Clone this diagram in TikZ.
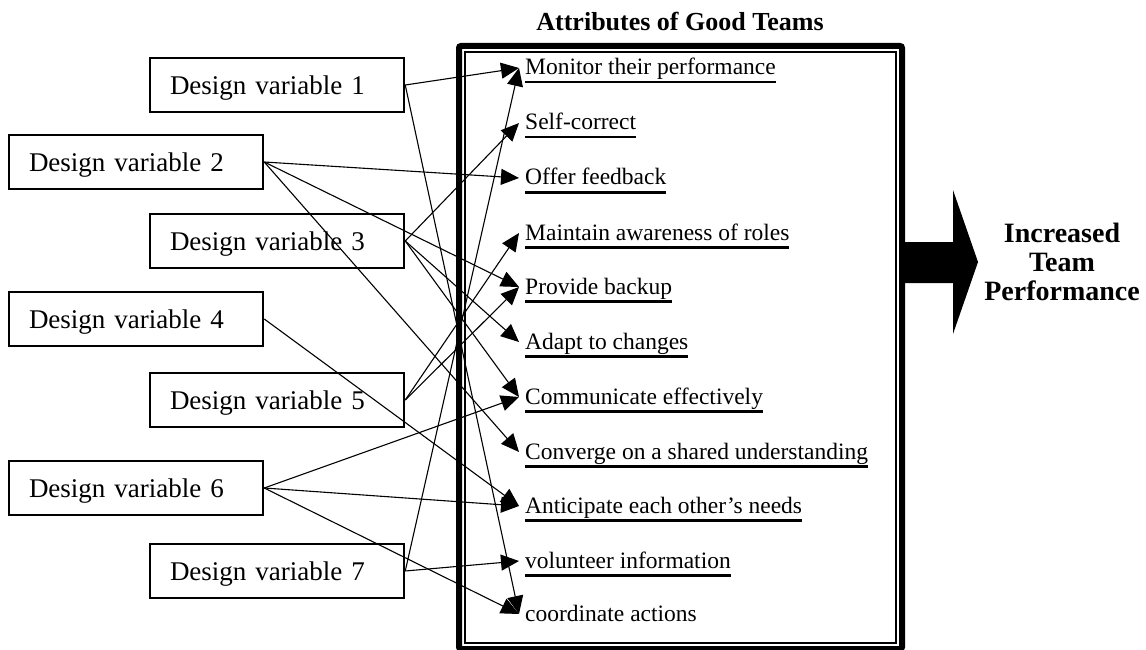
\documentclass[tikz,border=0pt]{standalone}
\usepackage{fontspec}
\setmainfont{Liberation Serif}
\usetikzlibrary{arrows.meta}
\newcommand{\attrul}[1]{\setbox0=\hbox{#1}\rlap{\rule[-8.5pt]{\wd0}{2.4pt}}\box0}
\tikzset{
  dvbox/.style={draw, line width=2.5pt, minimum height=54pt, text width=214pt, inner xsep=20pt, align=left,
    text height=19pt, text depth=0pt, font=\fontsize{27}{30}\selectfont},
  attr/.style={anchor=west, inner xsep=6pt, inner ysep=0pt, text height=17pt, text depth=3pt,
    font=\fontsize{23.5}{26}\selectfont},
  link/.style={line width=1.1pt, -{Triangle[length=18pt,width=16pt]}}
}
\begin{document}
\begin{tikzpicture}[x=1pt,y=-1pt]
\useasboundingbox (0,0) rectangle (1146,650);
\node[font=\bfseries\fontsize{26}{30}\selectfont] (title) at (680,22) {Attributes of Good Teams};
\draw[line width=6pt, rounded corners=2pt] (459,46) rectangle (902,649);
\draw[line width=2pt] (465,52) rectangle (896,643);
\node[dvbox] (dv1) at (277,85) {Design variable 1};
\node[dvbox] (dv2) at (136,162) {Design variable 2};
\node[dvbox] (dv3) at (277,241) {Design variable 3};
\node[dvbox] (dv4) at (136,319) {Design variable 4};
\node[dvbox] (dv5) at (277,400) {Design variable 5};
\node[dvbox] (dv6) at (136,488) {Design variable 6};
\node[dvbox] (dv7) at (277,571) {Design variable 7};
\node[attr] (monitor) at (519,68) {\attrul{Monitor their performance}};
\node[attr] (selfcorrect) at (519,123) {\attrul{Self-correct}};
\node[attr] (feedback) at (519,178) {\attrul{Offer feedback}};
\node[attr] (awareness) at (519,233) {\attrul{Maintain awareness of roles}};
\node[attr] (backup) at (519,287) {\attrul{Provide backup}};
\node[attr] (adapt) at (519,342) {\attrul{Adapt to changes}};
\node[attr] (communicate) at (519,397) {\attrul{Communicate effectively}};
\node[attr] (converge) at (519,452) {\attrul{Converge on a shared understanding}};
\node[attr] (anticipate) at (519,506) {\attrul{Anticipate each other’s needs}};
\node[attr] (volunteer) at (519,561) {\attrul{volunteer information}};
\node[attr] (coordinate) at (519,614) {coordinate actions};
\draw[link] (dv1.east) -- (monitor.west);
\draw[link] (dv1.east) -- (coordinate.west);
\draw[link] (dv2.east) -- (feedback.west);
\draw[link] (dv2.east) -- (backup.west);
\draw[link] (dv2.east) -- (converge.west);
\draw[link] (dv3.east) -- (selfcorrect.west);
\draw[link] (dv3.east) -- (adapt.west);
\draw[link] (dv3.east) -- (communicate.west);
\draw[link] (dv4.east) -- (anticipate.west);
\draw[link] (dv5.east) -- (awareness.west);
\draw[link] (dv5.east) -- (backup.west);
\draw[link] (dv6.east) -- (communicate.west);
\draw[link] (dv6.east) -- (anticipate.west);
\draw[link] (dv6.east) -- (coordinate.west);
\draw[link] (dv7.east) -- (monitor.west);
\draw[link] (dv7.east) -- (volunteer.west);
\fill (902,242) -- (953,242) -- (953,190) -- (978,262) -- (953,334) -- (953,283) -- (902,283) -- cycle;
\node[font=\bfseries\fontsize{28}{29}\selectfont, align=center] (result) at (1062,262) {Increased\\Team\\Performance};
\end{tikzpicture}
\end{document}
